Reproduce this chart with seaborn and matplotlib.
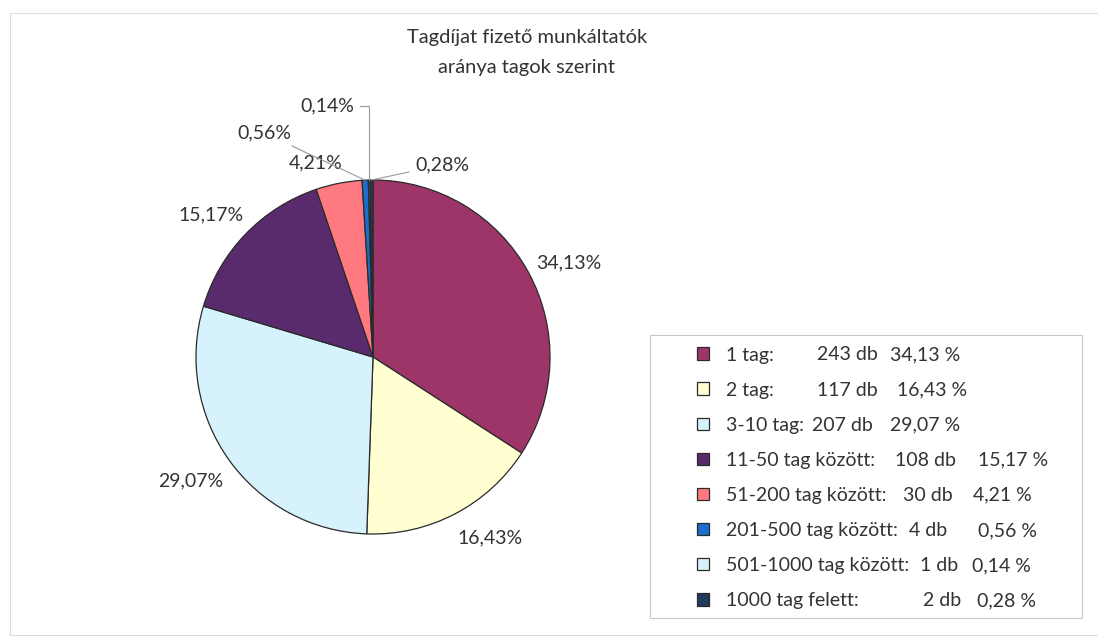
import numpy as np
import matplotlib
matplotlib.use("Agg")
import matplotlib.pyplot as plt
import seaborn as sns
from matplotlib.patches import Rectangle

# -------------------------------------------------------------------
# Data
# -------------------------------------------------------------------

title_lines = ["Tagdíjat fizető munkáltatók", "aránya tagok szerint"]

categories = [
    "1 tag:",
    "2 tag:",
    "3-10 tag:",
    "11-50 tag között:",
    "51-200 tag között:",
    "201-500 tag között:",
    "501-1000 tag között:",
    "1000 tag felett:",
]

counts = [243, 117, 207, 108, 30, 4, 1, 2]

colors = ["#9e3568", "#ffffd2", "#d6f2fc", "#5a2b6c",
          "#ff7a80", "#1a6fcc", "#d8f0fa", "#243a5c"]

# -------------------------------------------------------------------
# Layout (pixels of the 1098x638 picture)
# -------------------------------------------------------------------

W, H = 1098, 638
CX, CY, R = 373, 357, 177

# label centres in pie units (radius = 1)
label_xy = [(1.107, 0.531), (0.661, -1.023), (-1.028, -0.701), (-0.915, 0.802),
            (-0.322, 1.096), (-0.616, 1.266), (-0.260, 1.418), (0.390, 1.085)]

# x of the "db" and "%" columns in the legend
count_x = [817, 817, 800, 895, 903, 909, 920, 923]
pct_x = [890, 897, 890, 978, 973, 978, 972, 977]

TEXT = "#333333"
FS = 14


def fmt_pct(p):
    return f"{p:.2f}".replace(".", ",")


def draw_chart():
    sns.set_theme(style="white")
    plt.rcParams["font.family"] = ["Lato", "DejaVu Sans"]

    fig = plt.figure(figsize=(W / 100, H / 100), dpi=100)
    fig.patch.set_facecolor("white")

    # faint outer chart frame
    fig.add_artist(Rectangle((10 / W, 1 - 635 / H), 1090 / W, 622 / H,
                             transform=fig.transFigure, fill=False,
                             edgecolor="#dcdcdc", lw=0.8))

    ax = fig.add_axes([(CX - R) / W, (H - CY - R) / H, 2 * R / W, 2 * R / H])
    wedges, _ = ax.pie(counts, colors=colors, startangle=90, counterclock=False,
                       radius=1, wedgeprops=dict(edgecolor="#2a2a2a", linewidth=0.9))
    ax.set_xlim(-1, 1)
    ax.set_ylim(-1, 1)
    ax.set_aspect("equal")
    ax.axis("off")

    total = sum(counts)
    pcts = [c / total * 100 for c in counts]

    for i, (w, p) in enumerate(zip(wedges, pcts)):
        mid = np.deg2rad((w.theta1 + w.theta2) / 2)
        tip = (np.cos(mid), np.sin(mid))
        lbl = fmt_pct(p) + "%"
        if p < 1:
            # small slices get a leader line
            style = "angle,angleA=0,angleB=90" if label_xy[i][1] > 1.3 else "arc3"
            ax.annotate(lbl, xy=tip, xytext=label_xy[i], ha="center", va="center",
                        fontsize=FS, color=TEXT, annotation_clip=False,
                        arrowprops=dict(arrowstyle="-", color="#9a9a9a", lw=0.8,
                                        shrinkA=2, shrinkB=0, connectionstyle=style))
        else:
            ax.text(*label_xy[i], lbl, ha="center", va="center",
                    fontsize=FS, color=TEXT, clip_on=False)

    # title
    fig.text(527 / W, 1 - 38 / H, title_lines[0], ha="center", va="center",
             fontsize=14.5, color=TEXT)
    fig.text(527 / W, 1 - 68 / H, title_lines[1], ha="center", va="center",
             fontsize=14.5, color=TEXT)

    # legend
    fig.add_artist(Rectangle((650 / W, 1 - 618 / H), 432 / W, 283 / H,
                             transform=fig.transFigure, fill=False,
                             edgecolor="#c8c8c8", lw=0.8))
    leg = fig.legend(wedges, categories, loc="upper left",
                     bbox_to_anchor=(697 / W, 1 - 346.5 / H), frameon=False,
                     fontsize=FS, handlelength=0.62, handleheight=0.62,
                     handletextpad=0.85, labelspacing=0.93, borderpad=0,
                     borderaxespad=0)
    for t in leg.get_texts():
        t.set_color(TEXT)

    fig.canvas.draw()
    renderer = fig.canvas.get_renderer()
    for i, t in enumerate(leg.get_texts()):
        bb = t.get_window_extent(renderer)
        y = (bb.y0 + bb.y1) / 2 / H
        cx = max(count_x[i], bb.x1 + 8)
        ct = fig.text(cx / W, y, f"{counts[i]} db", ha="left", va="center",
                      fontsize=FS, color=TEXT)
        cb = ct.get_window_extent(renderer)
        px = max(pct_x[i], cb.x1 + 12)
        fig.text(px / W, y, fmt_pct(pcts[i]) + " %", ha="left", va="center",
                 fontsize=FS, color=TEXT)

    fig.savefig("out.png", dpi=100)
    plt.close(fig)


if __name__ == "__main__":
    draw_chart()
